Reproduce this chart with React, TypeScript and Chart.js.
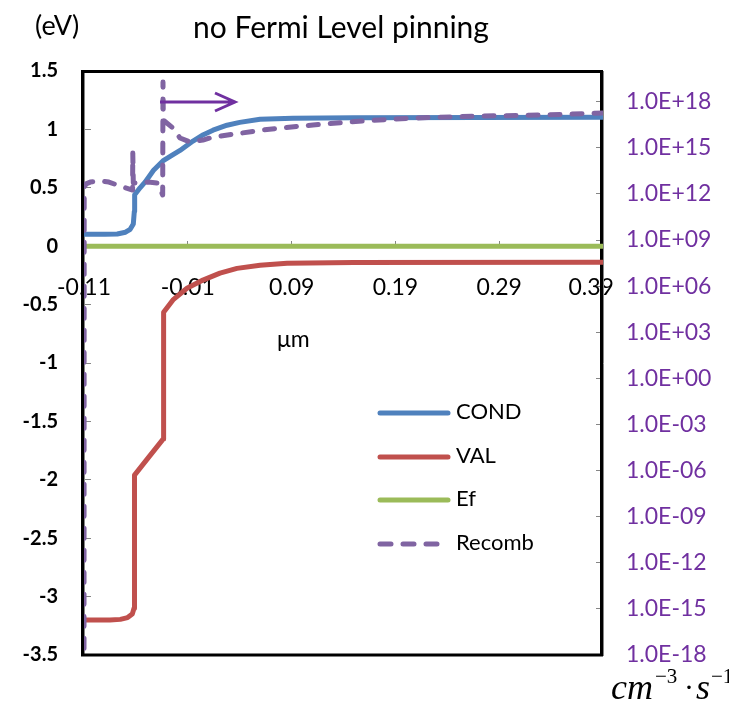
import React, { useEffect, useRef } from 'react';
import { Chart, registerables } from 'chart.js';

Chart.register(...registerables);

// ---------- data ----------
const xTickValues = [-0.11, -0.01, 0.09, 0.19, 0.29, 0.39];
const rightTickValues = [1e-18, 1e-15, 1e-12, 1e-9, 1e-6, 1e-3, 1e0, 1e3, 1e6, 1e9, 1e12, 1e15, 1e18];

const condX = [-0.11, -0.09, -0.078, -0.07, -0.0655, -0.0625, -0.0615, -0.0612, -0.056, -0.051, -0.043, -0.034, -0.025, -0.0175, -0.005, 0.005, 0.0143, 0.0278, 0.04, 0.0596, 0.0913, 0.15, 0.39];
const condY = [0.103, 0.103, 0.105, 0.12, 0.145, 0.19, 0.3, 0.44, 0.5, 0.55, 0.65, 0.73, 0.78, 0.82, 0.9, 0.955, 0.993, 1.036, 1.06, 1.087, 1.096, 1.1, 1.104];

const valX = [-0.11, -0.085, -0.075, -0.068, -0.0635, -0.0618, -0.0615, -0.0612, -0.048, -0.0336, -0.0334, -0.0332, -0.0243, -0.0108, 0.0046, 0.021, 0.0374, 0.0596, 0.0856, 0.15, 0.39];
const valY = [-3.2, -3.2, -3.195, -3.18, -3.15, -3.1, -2.5, -1.96, -1.81, -1.65, -1.2, -0.565, -0.46, -0.36, -0.29, -0.23, -0.19, -0.163, -0.146, -0.14, -0.137];

const efX = [-0.11, 0.39];
const efY = [0, 0];

const recombX = [-0.11, -0.1098, -0.108, -0.104, -0.094, -0.086, -0.0725, -0.0632, -0.063, -0.0625, -0.0483, -0.0387, -0.0342, -0.0339, -0.0336, -0.0252, -0.0175, -0.0079, 0.0046, 0.0143, 0.0624, 0.1106, 0.1588, 0.207, 0.2715, 0.336, 0.39];
const recombY = [1e-19, 2.8e12, 4.5e12, 5.9e12, 6.9e12, 5.9e12, 2.8e12, 1.8e12, 4.6e14, 5.1e12, 5.9e12, 5.1e12, 8.5e11, 1.9e19, 6.3e16, 2.2e16, 4.4e15, 2.4e15, 3.2e15, 5.0e15, 1.45e16, 3.1e16, 5.6e16, 8.7e16, 1.17e17, 1.38e17, 1.86e17];

const legendLabels = ['COND', 'VAL', 'Ef', 'Recomb'];

const COND_COLOR = '#4F81BD';
const VAL_COLOR = '#C0504D';
const EF_COLOR = '#9BBB59';
const RECOMB_COLOR = '#8064A2';
const PURPLE_TEXT = '#7030A0';
const FONT = 'Lato, "Noto Sans", sans-serif';

const pts = (xs: number[], ys: number[]) => xs.map((x, i) => ({ x, y: ys[i] }));

const fmtSci = (v: number) => {
  const e = Math.round(Math.log10(v));
  return '1.0E' + (e < 0 ? '-' : '+') + String(Math.abs(e)).padStart(2, '0');
};

const overlayPlugin = {
  id: 'overlay',
  beforeDatasetsDraw(chart: any) {
    const { ctx, chartArea: a } = chart;
    ctx.save();
    ctx.strokeStyle = '#000';
    ctx.lineWidth = 3;
    ctx.strokeRect(a.left - 1.5, a.top + 0.5, a.right - a.left, a.bottom - a.top - 0.5);
    ctx.restore();
  },
  afterDraw(chart: any) {
    const { ctx, chartArea: a, scales } = chart;
    ctx.save();
    // title & unit
    ctx.fillStyle = '#000';
    ctx.textBaseline = 'middle';
    ctx.textAlign = 'center';
    ctx.font = `30px ${FONT}`;
    ctx.fillText('no Fermi Level pinning', 341, 28);
    ctx.textAlign = 'left';
    ctx.font = `27px ${FONT}`;
    ctx.fillText('(eV)', 35, 26);

    // mu m label
    ctx.font = `23px ${FONT}`;
    ctx.fillText('\u03bcm', scales.x.getPixelForValue(0.076), scales.y.getPixelForValue(-0.8));

    // arrow
    ctx.strokeStyle = PURPLE_TEXT;
    ctx.lineWidth = 3;
    ctx.lineCap = 'butt';
    const ay = a.top + 31;
    const ax0 = a.left + 76;
    const ax1 = a.left + 151;
    ctx.beginPath();
    ctx.moveTo(ax0, ay);
    ctx.lineTo(ax1, ay);
    ctx.moveTo(ax1 - 20, ay - 9);
    ctx.lineTo(ax1, ay);
    ctx.lineTo(ax1 - 20, ay + 9);
    ctx.stroke();

    // legend
    const items = [
      { label: legendLabels[0], color: COND_COLOR, dash: [] as number[] },
      { label: legendLabels[1], color: VAL_COLOR, dash: [] as number[] },
      { label: legendLabels[2], color: EF_COLOR, dash: [] as number[] },
      { label: legendLabels[3], color: RECOMB_COLOR, dash: [11, 12] },
    ];
    const lx0 = 380;
    const lx1 = 448;
    const ly = [413, 457, 500, 544];
    items.forEach((it, i) => {
      ctx.strokeStyle = it.color;
      ctx.lineWidth = 5;
      ctx.lineCap = 'round';
      ctx.setLineDash(it.dash);
      ctx.beginPath();
      ctx.moveTo(lx0, ly[i]);
      ctx.lineTo(lx1, ly[i]);
      ctx.stroke();
      ctx.setLineDash([]);
      ctx.fillStyle = '#000';
      ctx.font = `22px ${FONT}`;
      ctx.textBaseline = 'middle';
      ctx.fillText(it.label, 456, ly[i] - 1);
    });

    // units cm^-3 · s^-1
    ctx.fillStyle = '#000';
    ctx.textBaseline = 'alphabetic';
    ctx.font = 'italic 36px "Liberation Serif", serif';
    ctx.fillText('cm', 611, 699);
    ctx.font = '21px "Liberation Serif", serif';
    ctx.fillText('\u22123', 655, 683);
    ctx.font = '30px "Liberation Serif", serif';
    ctx.fillText('\u00b7', 684, 697);
    ctx.font = 'italic 36px "Liberation Serif", serif';
    ctx.fillText('s', 696, 699);
    ctx.font = '21px "Liberation Serif", serif';
    ctx.fillText('\u22121', 711, 683);
    ctx.restore();
  },
};

export default function App() {
  const ref = useRef<HTMLCanvasElement | null>(null);

  useEffect(() => {
    if (!ref.current) return;
    const tickGray = '#868686';
    const chart = new Chart(ref.current, {
      type: 'line',
      data: {
        datasets: [
          {
            label: 'Recomb',
            data: pts(recombX, recombY),
            yAxisID: 'y1',
            borderColor: RECOMB_COLOR,
            borderWidth: 5,
            borderDash: [10, 12],
            borderCapStyle: 'round',
            borderJoinStyle: 'round',
            pointRadius: 0,
            tension: 0,
            order: 0,
          },
          {
            label: 'Ef',
            data: pts(efX, efY),
            yAxisID: 'y',
            borderColor: EF_COLOR,
            borderWidth: 5,
            pointRadius: 0,
            order: 1,
          },
          {
            label: 'VAL',
            data: pts(valX, valY),
            yAxisID: 'y',
            borderColor: VAL_COLOR,
            borderWidth: 5,
            borderJoinStyle: 'round',
            pointRadius: 0,
            tension: 0,
            order: 2,
          },
          {
            label: 'COND',
            data: pts(condX, condY),
            yAxisID: 'y',
            borderColor: COND_COLOR,
            borderWidth: 5,
            borderJoinStyle: 'round',
            pointRadius: 0,
            tension: 0,
            order: 3,
          },
        ],
      } as any,
      options: {
        responsive: false,
        animation: false,
        devicePixelRatio: 1,
        layout: { padding: { left: 0, top: 71, right: 0, bottom: 49 } },
        plugins: { legend: { display: false }, tooltip: { enabled: false }, title: { display: false } },
        scales: {
          x: {
            type: 'linear',
            position: { y: 0 } as any,
            min: -0.11,
            max: 0.39,
            afterBuildTicks: (s: any) => {
              s.ticks = xTickValues.map((v) => ({ value: v }));
            },
            afterFit: (s: any) => {
              s.paddingLeft = 0;
              s.paddingRight = 0;
            },
            ticks: {
              callback: (v: any) => {
                const t = Number(v).toFixed(2);
                return Number(v) > 0.38 ? t + '    ' : t;
              },
              color: '#000',
              font: { family: FONT, size: 23 },
              padding: 34,
              maxRotation: 0,
              autoSkip: false,
            },
            grid: { drawOnChartArea: false, tickLength: -6, color: tickGray },
            border: { color: tickGray, width: 1 },
          },
          y: {
            type: 'linear',
            position: 'left',
            min: -3.5,
            max: 1.5,
            afterFit: (s: any) => {
              s.width = 84;
              s.paddingTop = 0;
              s.paddingBottom = 0;
            },
            ticks: {
              stepSize: 0.5,
              callback: (v: any) => String(Number(Number(v).toFixed(1))),
              color: '#000',
              font: { family: FONT, size: 20, weight: 'bold' },
              padding: 33,
            },
            grid: { drawOnChartArea: false, tickLength: -7, color: tickGray },
            border: { color: tickGray, width: 1 },
          },
          y1: {
            type: 'logarithmic',
            position: 'right',
            min: 1e-18,
            max: 1e20,
            afterBuildTicks: (s: any) => {
              s.ticks = rightTickValues.map((v) => ({ value: v }));
            },
            afterFit: (s: any) => {
              s.width = 126;
              s.paddingTop = 0;
              s.paddingBottom = 0;
            },
            ticks: {
              callback: (v: any) => fmtSci(Number(v)),
              color: PURPLE_TEXT,
              font: { family: FONT, size: 23 },
              padding: 30,
              autoSkip: false,
            },
            grid: { drawOnChartArea: false, tickLength: -7, color: tickGray },
            border: { color: tickGray, width: 1 },
          },
        },
      } as any,
      plugins: [overlayPlugin],
    });
    return () => chart.destroy();
  }, []);

  return (
    <div style={{ position: 'absolute', left: 0, top: 0, width: 729, height: 704, background: '#fff' }}>
      <canvas ref={ref} width={729} height={704} style={{ display: 'block' }} />
    </div>
  );
}
